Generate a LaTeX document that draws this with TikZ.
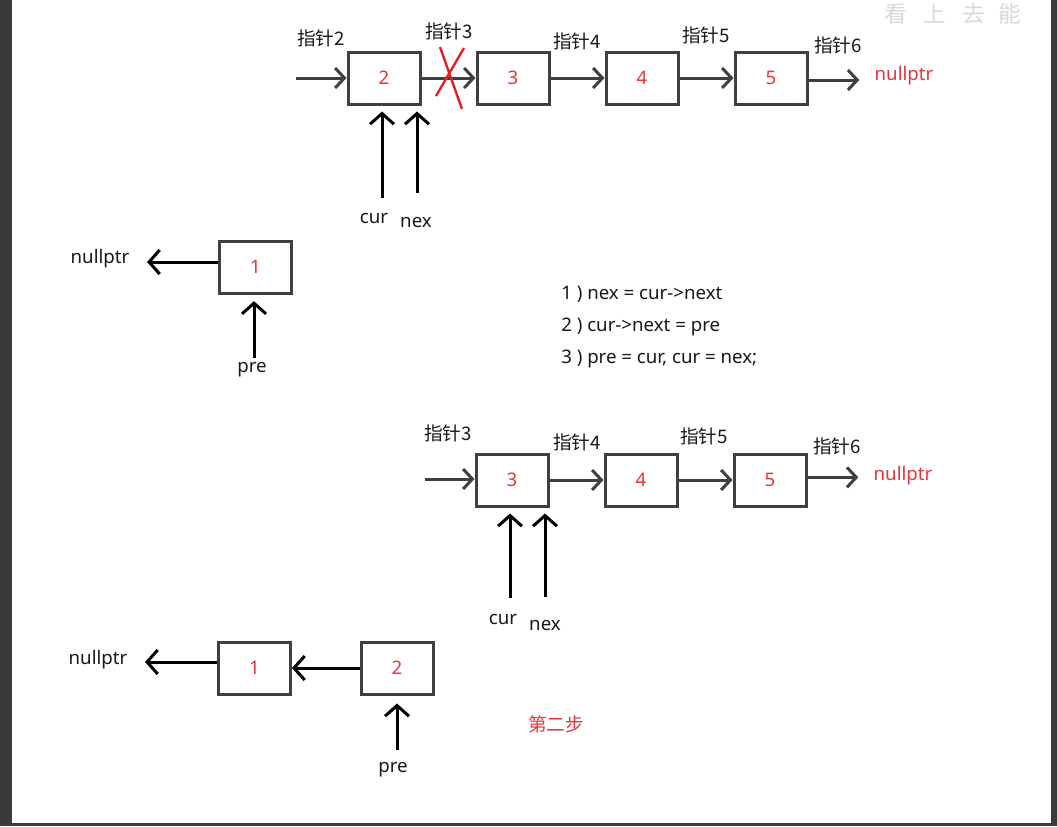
\documentclass[tikz,border=0pt]{standalone}
\usepackage{fontspec}
\setmainfont{Noto Sans}
\newfontfamily\cjk{Noto Sans CJK SC}
\usepackage{tikz}
\usetikzlibrary{arrows.meta}

\definecolor{boxgray}{HTML}{404040}
\definecolor{numred}{HTML}{E8353B}
\definecolor{crossred}{HTML}{E5202B}
\definecolor{framegray}{HTML}{3A3A3A}

\tikzset{
  cell/.style={draw=boxgray,line width=2.25pt,minimum width=54pt,minimum height=39pt,inner sep=0pt,text=numred},
  link/.style={draw=boxgray,line width=2.25pt,-{Straight Barb[length=7pt,width=15pt]}},
  ptr/.style={draw=black,line width=2.25pt,-{Straight Barb[length=8pt,width=18pt]}},
  lbl/.style={text=black!90},
}

\begin{document}
\begin{tikzpicture}[x=0.75pt,y=-0.75pt,font=\fontsize{14}{17}\selectfont]
  \useasboundingbox (0,0) rectangle (1057,826);
  \fill[framegray] (0,0) rectangle (1057,826);
  \fill[white] (12,0) rectangle (1051,823);
  \foreach \c/\x in {看/896,上/935,去/974,能/1010}{\node[text=gray!30,inner sep=0pt,font=\cjk\fontsize{17}{17}\selectfont] (w\x) at (\x,14){\c};}

  % first state
  \foreach \n/\x in {2/384,3/513,4/642,5/771}
    \node[cell] (a\n) at (\x,78) {\n};
  \coordinate (ain) at (296,78);
  \draw[link] (ain) -- (ain -| a2.west);
  \foreach \i/\j in {2/3,3/4,4/5}
    \draw[link] (a\i.east) -- (a\j.west);
  \node[text=numred] (nula) at (904,76) {nullptr};
  \draw[link,shorten >=8pt] ([yshift=-1.5pt]a5.east) -- ([yshift=-1.5pt]a5.east -| nula.west);
  \foreach \n/\x/\y in {2/321/38,3/449/31,4/577/41,5/706/35,6/838/45}
    \node[lbl] (ta\n) at (\x,\y) {\cjk 指针\n};
  \draw[crossred,line width=1.8pt] (440,47) -- (462,109) (464,48) -- (436,96);

  \node[lbl] (cura) at (374,218) {cur};
  \node[lbl] (nexa) at (416,222) {nex};
  \coordinate (curat) at (382,198);
  \coordinate (nexat) at (417,193);
  \draw[ptr,shorten >=4.5pt] (curat) -- (curat |- a2.south);
  \draw[ptr,shorten >=4.5pt] (nexat) -- (nexat |- a2.south);

  \node[cell] (b1) at (255.5,267) {1};
  \node[lbl] (nulb) at (100,259) {nullptr};
  \draw[ptr,shorten >=9.75pt] ([yshift=3.75pt]b1.west) -- ([yshift=3.75pt]b1.west -| nulb.east);
  \node[lbl] (preb) at (252,370) {pre};
  \coordinate (prebt) at (254,358);
  \draw[ptr,shorten >=5pt] (prebt) -- (prebt |- b1.south);

  % steps
  \node[lbl,anchor=west,inner sep=0pt] (s1) at (561,294) {1 ) nex = cur->next};
  \node[lbl,anchor=west,inner sep=0pt] (s2) at (561,327) {2 ) cur->next = pre};
  \node[lbl,anchor=west,inner sep=0pt] (s3) at (561,359) {3 ) pre = cur, cur = nex;};

  % second state
  \foreach \n/\x in {3/512,4/641,5/770}
    \node[cell] (c\n) at (\x,480) {\n};
  \coordinate (cin) at (425,479);
  \draw[link] (cin) -- (cin -| c3.west);
  \foreach \i/\j in {3/4,4/5}
    \draw[link] (c\i.east) -- (c\j.west);
  \node[text=numred] (nulc) at (903,476) {nullptr};
  \draw[link,shorten >=8pt] ([yshift=2pt]c5.east) -- ([yshift=2pt]c5.east -| nulc.west);
  \foreach \n/\x/\y in {3/448/433,4/577/442,5/704/436,6/837/446}
    \node[lbl] (tc\n) at (\x,\y) {\cjk 指针\n};

  \node[lbl] (curc) at (503,619) {cur};
  \node[lbl] (nexc) at (545,625) {nex};
  \coordinate (curct) at (510,598);
  \coordinate (nexct) at (545,597);
  \draw[ptr,shorten >=4.5pt] (curct) -- (curct |- c3.south);
  \draw[ptr,shorten >=4.5pt] (nexct) -- (nexct |- c3.south);

  \node[cell] (d1) at (254.5,668) {1};
  \node[cell] (d2) at (397,668) {2};
  \draw[ptr] (d2.west) -- (d1.east);
  \node[lbl] (nuld) at (98,660) {nullptr};
  \draw[ptr,shorten >=9.75pt] ([yshift=4.5pt]d1.west) -- ([yshift=4.5pt]d1.west -| nuld.east);
  \node[lbl] (pred) at (393,770) {pre};
  \coordinate (predt) at (397,750);
  \draw[ptr,shorten >=6pt] (predt) -- (predt |- d2.south);

  \node[text=numred] (step) at (556,724) {\cjk 第二步};
\end{tikzpicture}
\end{document}
